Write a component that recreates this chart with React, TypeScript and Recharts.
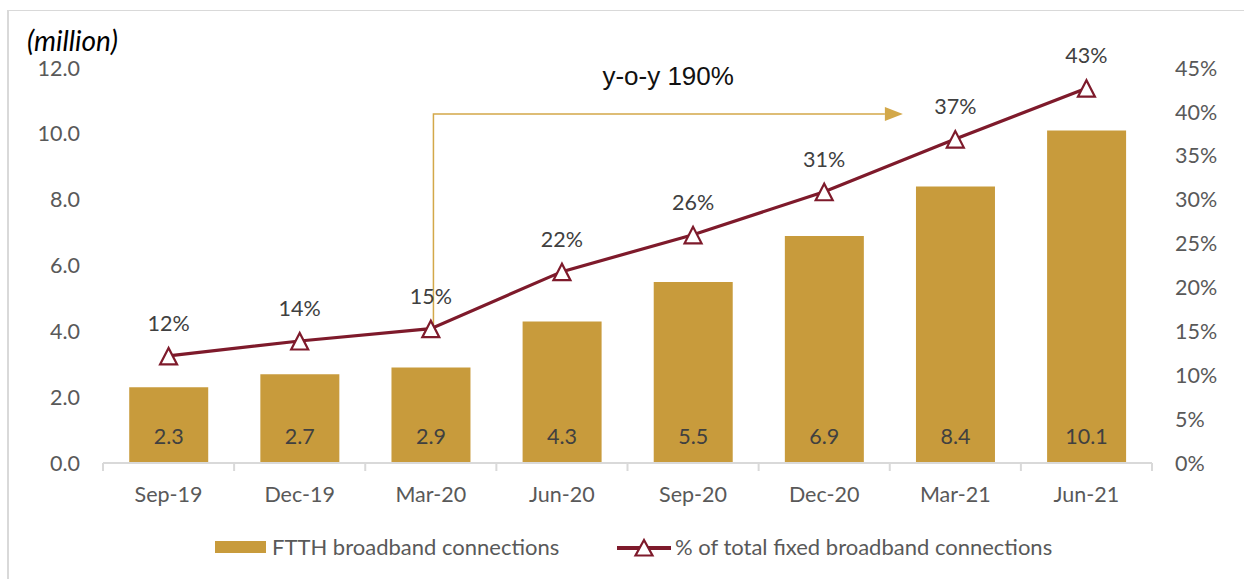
import { ComposedChart, Bar, Line, XAxis, YAxis, LabelList, ReferenceLine } from 'recharts'

const QUARTERS = ['Sep-19', 'Dec-19', 'Mar-20', 'Jun-20', 'Sep-20', 'Dec-20', 'Mar-21', 'Jun-21']
const FTTH_CONNECTIONS = [2.3, 2.7, 2.9, 4.3, 5.5, 6.9, 8.4, 10.1]
const SHARE_OF_FIXED = [12.2, 13.9, 15.3, 21.8, 26.0, 30.9, 36.9, 42.7]
const LEFT_TICKS = [0, 2, 4, 6, 8, 10, 12]
const RIGHT_TICKS = [0, 5, 10, 15, 20, 25, 30, 35, 40, 45]
const YOY_TEXT = 'y-o-y 190%'
// arrow annotation in data units (x on a 0..8 band index axis, y in million)
const YOY_ARROW = { x1: 2.52, y1: 4.2, x2: 6.1, y2: 10.6 }

const GOLD = '#C89B3C'
const ARROW_GOLD = '#D3A849'
const MAROON = '#7E1A2B'
const AXIS_LINE = '#D9D9D9'
const AXIS_TEXT = '#595959'
const LABEL_TEXT = '#404040'
const FONT = 'Lato, "Open Sans", sans-serif'
const FS = 21.5

const data = QUARTERS.map((q, i) => ({
  quarter: q,
  slot: i + 0.5, // band centre on the 0..8 helper axis
  ftth: FTTH_CONNECTIONS[i],
  share: SHARE_OF_FIXED[i],
}))

// boundaries at integers, labels at band centres
const bandTicks: number[] = []
for (let i = 0; i <= QUARTERS.length * 2; i++) bandTicks.push(i / 2)

function BandTick(props: any) {
  const { x, y, payload } = props
  const v = payload.value as number
  if (Number.isInteger(v)) {
    return <line x1={x} y1={y} x2={x} y2={y + 8} stroke={AXIS_LINE} strokeWidth={2} />
  }
  return (
    <text x={x} y={y + 39} textAnchor="middle" fill={AXIS_TEXT} fontSize={FS} fontFamily={FONT}>
      {QUARTERS[Math.floor(v)]}
    </text>
  )
}

function TriangleDot(props: any) {
  const { cx, cy } = props
  if (cx == null || cy == null) return null
  return (
    <polygon
      points={`${cx},${cy - 8} ${cx - 8.5},${cy + 8.5} ${cx + 8.5},${cy + 8.5}`}
      fill="#fff"
      stroke={MAROON}
      strokeWidth={2.2}
    />
  )
}

function BarValueLabel(props: any) {
  const { x, y, width, height, value } = props
  return (
    <text
      x={x + width / 2}
      y={y + height - 19}
      textAnchor="middle"
      fill={LABEL_TEXT}
      fontSize={FS}
      fontFamily={FONT}
    >
      {Number(value).toFixed(1)}
    </text>
  )
}

function ShareLabel(props: any) {
  const { x, y, value } = props
  return (
    <text x={x} y={y - 25} textAnchor="middle" fill={LABEL_TEXT} fontSize={FS} fontFamily={FONT}>
      {Math.round(value)}%
    </text>
  )
}

function YoyArrow(props: any) {
  const { x1, y1, x2, y2 } = props
  const head = 18
  return (
    <g>
      <path
        d={`M${x1},${y1} V${y2} H${x2 - head}`}
        fill="none"
        stroke={ARROW_GOLD}
        strokeWidth={1.5}
      />
      <polygon points={`${x2},${y2} ${x2 - head},${y2 - 7} ${x2 - head},${y2 + 7}`} fill={ARROW_GOLD} />
      <text
        x={(x1 + x2) / 2}
        y={y2 - 29}
        textAnchor="middle"
        fill="#111"
        fontSize={26}
        fontFamily='"Liberation Sans", Arial, sans-serif'
      >
        {YOY_TEXT}
      </text>
    </g>
  )
}

export default function App() {
  return (
    <div
      style={{
        position: 'absolute',
        left: 0,
        top: 0,
        width: 1244,
        height: 579,
        overflow: 'hidden',
        background: '#fff',
        fontFamily: FONT,
      }}
    >
      <div
        style={{
          position: 'absolute',
          left: 7,
          top: 10,
          width: 1300,
          height: 640,
          borderLeft: '2px solid #D9D9D9',
          borderTop: '1px solid #D9D9D9',
        }}
      />
      <div
        style={{
          position: 'absolute',
          left: 27,
          top: 26,
          fontSize: 28,
          fontStyle: 'italic',
          color: '#000',
          lineHeight: '28px',
        }}
      >
        (million)
      </div>

      <div style={{ position: 'absolute', left: 0, top: 0 }}>
        <ComposedChart
          width={1244}
          height={579}
          data={data}
          margin={{ top: 68, right: 0, bottom: 76, left: 0 }}
          barCategoryGap="20%"
        >
          <XAxis dataKey="quarter" xAxisId="cat" hide />
          <XAxis
            xAxisId="band"
            dataKey="slot"
            type="number"
            domain={[0, QUARTERS.length]}
            allowDataOverflow
            ticks={bandTicks}
            interval={0}
            tick={<BandTick />}
            tickLine={false}
            tickSize={0}
            tickMargin={0}
            axisLine={{ stroke: AXIS_LINE, strokeWidth: 2 }}
            height={40}
          />
          <YAxis
            yAxisId="left"
            domain={[0, 12]}
            ticks={LEFT_TICKS}
            tickFormatter={(v: number) => v.toFixed(1)}
            axisLine={false}
            tickLine={false}
            tickSize={0}
            tickMargin={23}
            width={103}
            tick={{ fill: AXIS_TEXT, fontSize: FS, fontFamily: FONT }}
          />
          <YAxis
            yAxisId="right"
            orientation="right"
            domain={[0, 45]}
            ticks={RIGHT_TICKS}
            tickFormatter={(v: number) => `${v}%`}
            axisLine={false}
            tickLine={false}
            tickSize={0}
            tickMargin={23}
            width={92}
            tick={{ fill: AXIS_TEXT, fontSize: FS, fontFamily: FONT, textAnchor: 'start' }}
          />
          <Bar xAxisId="cat" yAxisId="left" dataKey="ftth" fill={GOLD} isAnimationActive={false}>
            <LabelList dataKey="ftth" content={<BarValueLabel />} />
          </Bar>
          <Line
            xAxisId="cat"
            yAxisId="right"
            dataKey="share"
            stroke={MAROON}
            strokeWidth={3.2}
            dot={<TriangleDot />}
            activeDot={false}
            isAnimationActive={false}
          >
            <LabelList dataKey="share" content={<ShareLabel />} />
          </Line>
          <ReferenceLine
            xAxisId="band"
            yAxisId="left"
            segment={[
              { x: YOY_ARROW.x1, y: YOY_ARROW.y1 },
              { x: YOY_ARROW.x2, y: YOY_ARROW.y2 },
            ]}
            shape={<YoyArrow />}
          />
        </ComposedChart>
      </div>

      {/* legend */}
      <div style={{ position: 'absolute', left: 215, top: 541, width: 51, height: 12, background: GOLD }} />
      <div
        style={{
          position: 'absolute',
          left: 272,
          top: 534,
          fontSize: 22,
          lineHeight: '26px',
          color: AXIS_TEXT,
          whiteSpace: 'nowrap',
        }}
      >
        FTTH broadband connections
      </div>
      <svg style={{ position: 'absolute', left: 612, top: 536 }} width={64} height={24}>
        <line x1={5} y1={12} x2={59} y2={12} stroke={MAROON} strokeWidth={4} />
        <polygon points="32,4 23.5,19.5 40.5,19.5" fill="#fff" stroke={MAROON} strokeWidth={2.2} />
      </svg>
      <div
        style={{
          position: 'absolute',
          left: 675,
          top: 534,
          fontSize: 22,
          lineHeight: '26px',
          color: AXIS_TEXT,
          whiteSpace: 'nowrap',
        }}
      >
        % of total fixed broadband connections
      </div>
    </div>
  )
}
